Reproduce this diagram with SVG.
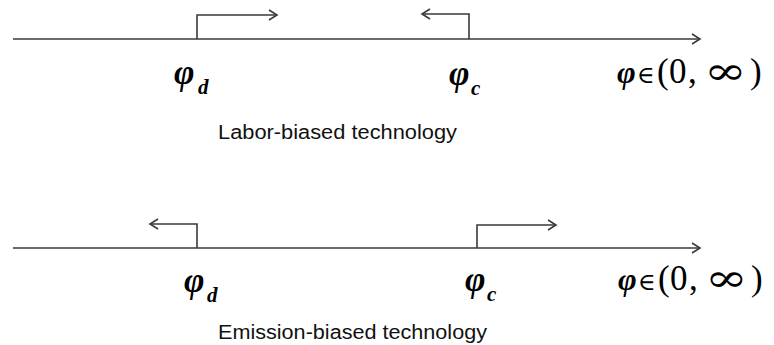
<svg xmlns="http://www.w3.org/2000/svg" width="774" height="345" viewBox="0 0 774 345">
<style>
.ln{fill:none;stroke:#3a3a3a;stroke-width:1.6}
.phi{font-family:"Liberation Serif",serif;font-style:italic;font-weight:bold;font-size:35px;fill:#000}
.sub{font-family:"Liberation Serif",serif;font-style:italic;font-weight:bold;font-size:21px;fill:#000}
.rng{font-family:"Liberation Serif",serif;font-size:35px;fill:#000}
.rphi{font-style:italic;font-weight:bold;font-size:32px}
.el{font-family:"DejaVu Serif",serif;font-size:24px}
.inf{font-family:"DejaVu Serif",serif;font-size:38px;fill:#000}
.cap{font-family:"Liberation Sans",Arial,sans-serif;font-size:20px;fill:#111}
</style>
<defs>
<marker id="ah" markerUnits="userSpaceOnUse" markerWidth="12" markerHeight="12" refX="9" refY="6" orient="auto" viewBox="0 0 12 12">
<path d="M1,1 L9,6 L1,11" fill="none" stroke="#3a3a3a" stroke-width="1.6"/>
</marker>
</defs>
<g id="connectors">
<line class="ln" x1="13" y1="39" x2="700" y2="39" marker-end="url(#ah)"/>
<polyline class="ln" points="197,39 197,15 277,15" marker-end="url(#ah)"/>
<polyline class="ln" points="469,39 469,14 422,14" marker-end="url(#ah)"/>
<line class="ln" x1="13" y1="248" x2="700" y2="248" marker-end="url(#ah)"/>
<polyline class="ln" points="197,248 197,224 150,224" marker-end="url(#ah)"/>
<polyline class="ln" points="477,248 477,225 556,225" marker-end="url(#ah)"/>
</g>
<g id="top-phi-d"><text class="phi" x="174" y="84">φ</text><text class="sub" x="198" y="94">d</text></g>
<g id="top-phi-c"><text class="phi" x="449" y="85">φ</text><text class="sub" x="471" y="95">c</text></g>
<g id="top-range"><text class="rng" y="83"><tspan class="rphi" x="617">φ</tspan><tspan class="el" x="637">∈</tspan><tspan x="657">(</tspan><tspan x="669">0</tspan><tspan x="688">,</tspan><tspan x="750">)</tspan></text><text class="inf" transform="translate(704,84) scale(1.35,1)">∞</text></g>
<g id="top-label"><text class="cap" x="218" y="139" textLength="239" lengthAdjust="spacingAndGlyphs">Labor-biased technology</text></g>
<g id="bottom-phi-d"><text class="phi" x="184" y="292">φ</text><text class="sub" x="207" y="302">d</text></g>
<g id="bottom-phi-c"><text class="phi" x="465" y="291">φ</text><text class="sub" x="487" y="301">c</text></g>
<g id="bottom-range"><text class="rng" y="290"><tspan class="rphi" x="618">φ</tspan><tspan class="el" x="638">∈</tspan><tspan x="658">(</tspan><tspan x="670">0</tspan><tspan x="689">,</tspan><tspan x="751">)</tspan></text><text class="inf" transform="translate(705,291) scale(1.35,1)">∞</text></g>
<g id="bottom-label"><text class="cap" x="218" y="339" textLength="269" lengthAdjust="spacingAndGlyphs">Emission-biased technology</text></g>
</svg>
